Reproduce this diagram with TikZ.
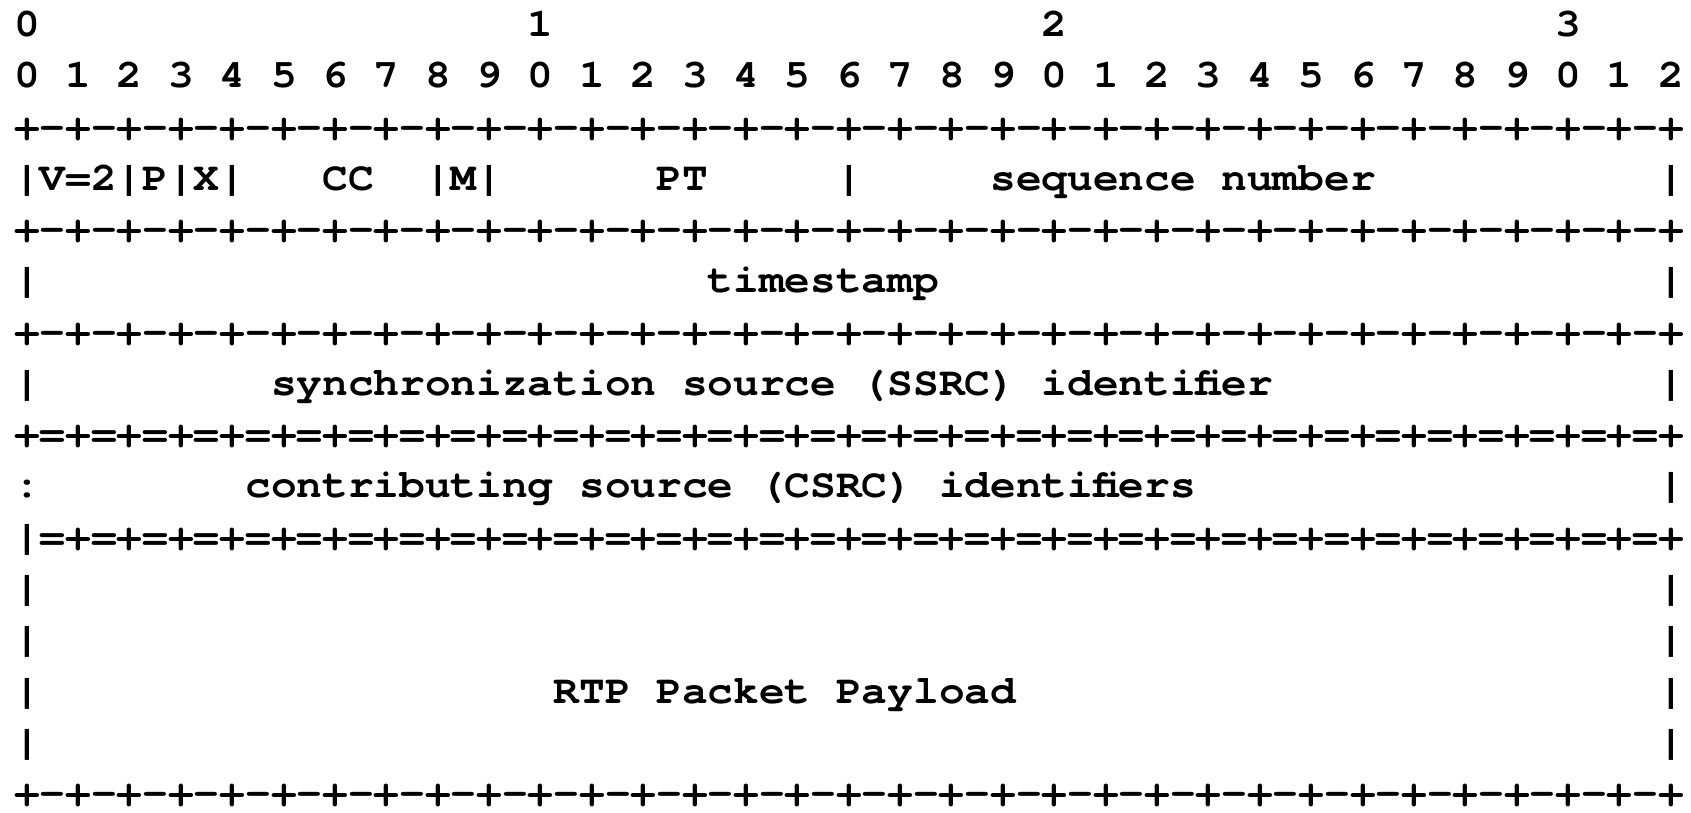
\documentclass[tikz,border=0pt]{standalone}
\usepackage{fontspec}
\newfontfamily\curfont[FakeStretch=1.0704]{TeX Gyre Cursor}
\frenchspacing
\newcommand\rPM{+-}
\newcommand\rPMe{\rPM\rPM\rPM\rPM\rPM\rPM\rPM\rPM}
\newcommand\rPE{+=}
\newcommand\rPEe{\rPE\rPE\rPE\rPE\rPE\rPE\rPE\rPE}
\newcommand\dashrule{\rPMe\rPMe\rPMe\rPMe+}
\newcommand\eqrule{\rPEe\rPEe\rPEe\rPEe+}
\newcommand\bareqrule{|=\rPE\rPE\rPE\rPE\rPE\rPE\rPE\rPEe\rPEe\rPEe+}
\tikzset{
  txt/.style={anchor=base west, inner sep=0pt, outer sep=0pt,
    font=\curfont\bfseries\fontsize{40pt}{48pt}\selectfont}
}
\begin{document}
\begin{tikzpicture}
\fill[white] (0,0) rectangle (1691pt,812pt);
\useasboundingbox (0,0) rectangle (1691pt,812pt);
\begin{scope}[x=25.69pt, y=-51.27pt, shift={(14.16pt,775.5pt)}]
% row 1
\node[txt] (h0) at (0,0) {0};
\node[txt] (h1) at (20,0) {1};
\node[txt] (h2) at (40,0) {2};
\node[txt] (h3) at (60,0) {3};
% row 2: bit numbers
\foreach \i [evaluate=\i as \d using {int(mod(\i,10))}] in {0,...,32}
  \node[txt] (bit\i) at (2*\i,1) {\d};
% row 3
\node[txt] (r3) at (0,2) {\dashrule};
% row 4
\node[txt] (vpx) at (0,3) {|V=2|P|X|};
\node[txt] (cc) at (12,3) {CC};
\node[txt] (m) at (16,3) {|M|};
\node[txt] (pt) at (25,3) {PT};
\node[txt] (b4a) at (32,3) {|};
\node[txt] (seqa) at (38,3) {sequence};
\node[txt] (seqb) at (47,3) {number};
\node[txt] (b4b) at (64,3) {|};
% row 5
\node[txt] (r5) at (0,4) {\dashrule};
% row 6
\node[txt] (b6a) at (0,5) {|};
\node[txt] (ts) at (27,5) {timestamp};
\node[txt] (b6b) at (64,5) {|};
% row 7
\node[txt] (r7) at (0,6) {\dashrule};
% row 8
\node[txt] (b8a) at (0,7) {|};
\node[txt] (ssrca) at (10,7) {synchronization};
\node[txt] (ssrcb) at (26,7) {source};
\node[txt] (ssrcc) at (33,7) {(SSRC)};
\node[txt] (ssrcd) at (40,7) {identifier};
\node[txt] (b8b) at (64,7) {|};
% row 9
\node[txt] (r9) at (0,8) {\eqrule};
% row 10
\node[txt] (c10) at (0,9) {:};
\node[txt] (csrca) at (9,9) {contributing};
\node[txt] (csrcb) at (22,9) {source};
\node[txt] (csrcc) at (29,9) {(CSRC)};
\node[txt] (csrcd) at (36,9) {identifiers};
\node[txt] (b10b) at (64,9) {|};
% row 11
\node[txt] (r11) at (0,10) {\bareqrule};
% rows 12-15
\node[txt] (b12a) at (0,11) {|};
\node[txt] (b12b) at (64,11) {|};
\node[txt] (b13a) at (0,12) {|};
\node[txt] (b13b) at (64,12) {|};
\node[txt] (b14a) at (0,13) {|};
\node[txt] (paya) at (21,13) {RTP};
\node[txt] (payb) at (25,13) {Packet};
\node[txt] (payc) at (32,13) {Payload};
\node[txt] (b14b) at (64,13) {|};
\node[txt] (b15a) at (0,14) {|};
\node[txt] (b15b) at (64,14) {|};
% row 16
\node[txt] (r16) at (0,15) {\dashrule};
\end{scope}
\end{tikzpicture}
\end{document}
